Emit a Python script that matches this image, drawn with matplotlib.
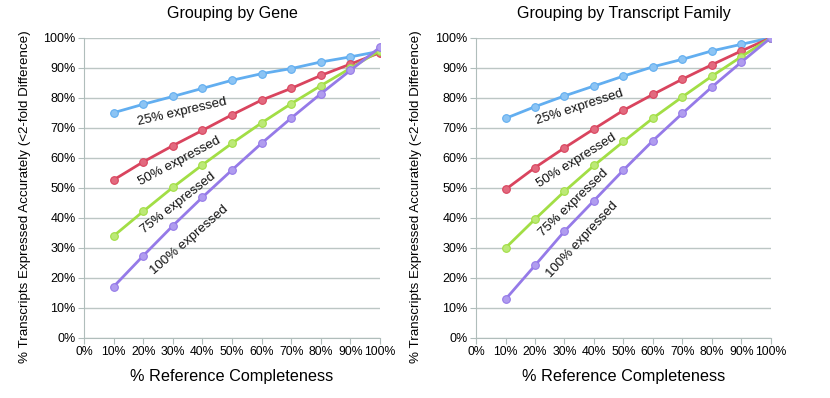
import numpy as np
import matplotlib.pyplot as plt
from matplotlib.ticker import FuncFormatter

plt.rcParams['font.family'] = ['Liberation Sans', 'DejaVu Sans']

completeness = [10, 20, 30, 40, 50, 60, 70, 80, 90, 100]
levels = ['25% expressed', '50% expressed', '75% expressed', '100% expressed']
colors = ['#62aef0', '#d9445e', '#a2de45', '#957ae8']
fills = ['#8cc4f4', '#e26a7f', '#bce977', '#b09cef']

# grouping by gene
gene_25 = [75.0, 77.8, 80.4, 83.1, 85.8, 88.0, 89.7, 91.9, 93.6, 95.5]
gene_50 = [52.6, 58.6, 64.0, 69.1, 74.3, 79.2, 83.1, 87.4, 91.2, 95.0]
gene_75 = [33.9, 42.1, 50.1, 57.6, 64.8, 71.6, 78.0, 84.0, 89.8, 95.7]
gene_100 = [17.0, 27.3, 37.3, 46.8, 55.9, 64.8, 73.2, 81.3, 89.1, 96.8]

# grouping by transcript family
fam_25 = [73.1, 77.0, 80.6, 83.9, 87.2, 90.3, 92.8, 95.6, 97.8, 100.0]
fam_50 = [49.4, 56.7, 63.3, 69.6, 75.8, 81.1, 86.2, 91.0, 95.6, 100.0]
fam_75 = [29.9, 39.5, 48.8, 57.4, 65.4, 73.2, 80.3, 87.2, 93.7, 100.0]
fam_100 = [12.8, 24.1, 35.5, 45.7, 55.9, 65.7, 74.8, 83.6, 91.9, 100.0]

# label positions (x, y, rotation) for each panel
gene_labels = [(33.3, 75.3, 13), (32.4, 58.8, 28), (31.8, 44.9, 38), (35.6, 32.6, 41)]
fam_labels = [(35.2, 76.8, 18), (34.2, 59.0, 32), (33.1, 44.8, 44), (36.0, 32.8, 47)]

pct = FuncFormatter(lambda v, p: '%d%%' % v)


def drawPanel(ax, series, labels, title, ylab_x):
    for ys, c, f in zip(series, colors, fills):
        ax.plot(completeness, ys, color=c, lw=2, marker='o', ms=5.5,
                mfc=f, mec=c, mew=0.8, zorder=3)
    for (x, y, r), txt in zip(labels, levels):
        ax.text(x, y, txt, rotation=r, fontsize=9.5, ha='center',
                va='center', color='#111111', rotation_mode='anchor')
    ax.set_xlim(0, 100)
    ax.set_ylim(0, 100)
    ax.set_xticks(range(0, 101, 10))
    ax.set_yticks(range(0, 101, 10))
    ax.xaxis.set_major_formatter(pct)
    ax.yaxis.set_major_formatter(pct)
    ax.grid(axis='y', color='#bcc6c4', lw=1)
    ax.set_axisbelow(True)
    for s in ['top', 'right']:
        ax.spines[s].set_visible(False)
    for s in ['left', 'bottom']:
        ax.spines[s].set_color('#b0bdbb')
    ax.tick_params(axis='x', length=4, color='#b0bdbb', labelsize=8.8, pad=2)
    ax.tick_params(axis='y', length=4, color='#b0bdbb', labelsize=9, pad=2)
    ax.set_title(title, fontsize=11.5, pad=14)
    ax.set_xlabel('% Reference Completeness', fontsize=11.7, labelpad=8)
    ax.set_ylabel('% Transcripts Expressed Accurately (<2-fold Difference)',
                  fontsize=9.6)
    ax.yaxis.set_label_coords(ylab_x, 0.469)


fig = plt.figure(figsize=(8.3, 3.98), dpi=100)
ax1 = fig.add_axes([0.1012, 0.1515, 0.3566, 0.7538])
ax2 = fig.add_axes([0.5735, 0.1515, 0.3554, 0.7538])

drawPanel(ax1, [gene_25, gene_50, gene_75, gene_100], gene_labels,
          'Grouping by Gene', -0.179)
drawPanel(ax2, [fam_25, fam_50, fam_75, fam_100], fam_labels,
          'Grouping by Transcript Family', -0.183)

fig.savefig('out.png', dpi=100)
